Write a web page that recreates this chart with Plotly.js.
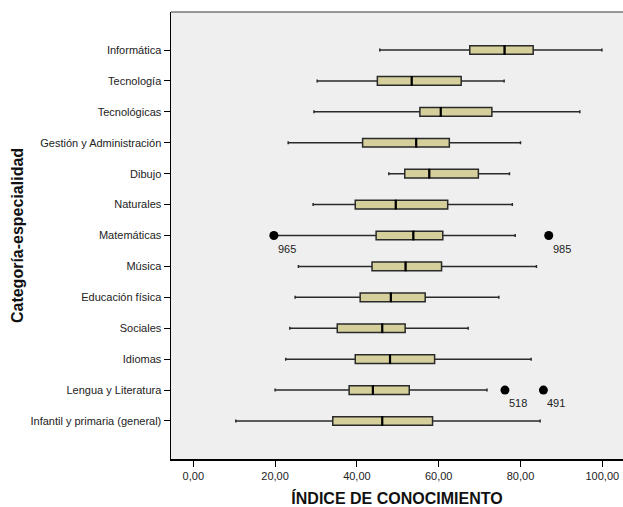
<!DOCTYPE html>
<html>
<head>
<meta charset="utf-8">
<script src="https://cdn.plot.ly/plotly-3.0.1.min.js"></script>
<style>html,body{margin:0;padding:0;background:#fff;}#chart{width:623px;height:507px;}</style>
</head>
<body>
<div id="chart"></div>
<script>
const categories = ['Infantil y primaria (general)','Lengua y Literatura','Idiomas','Sociales','Educación física','Música','Matemáticas','Naturales','Dibujo','Gestión y Administración','Tecnológicas','Tecnología','Informática'];
const lowerFence = [10.4, 20.0, 22.6, 23.6, 24.9, 25.7, 20.6, 29.3, 47.8, 23.2, 29.5, 30.3, 45.6];
const q1Values   = [34.1, 38.1, 39.6, 35.2, 40.8, 43.7, 44.7, 39.6, 51.7, 41.4, 55.4, 45.0, 67.6];
const medians    = [46.2, 43.9, 48.1, 46.2, 48.3, 51.9, 53.8, 49.5, 57.7, 54.5, 60.5, 53.4, 76.1];
const q3Values   = [58.5, 52.8, 59.0, 51.8, 56.7, 60.7, 61.0, 62.2, 69.7, 62.6, 73.0, 65.5, 83.1];
const upperFence = [84.8, 71.8, 82.6, 67.2, 74.7, 83.9, 78.7, 78.0, 77.3, 80.0, 94.5, 76.0, 99.9];

const outlierCats   = ['Matemáticas','Matemáticas','Lengua y Literatura','Lengua y Literatura'];
const outlierValues = [19.7, 86.9, 76.2, 85.6];
const outlierLabels = ['965','985','518','491'];

const xTickVals = [0,20,40,60,80,100];
const xTickText = ['0,00','20,00','40,00','60,00','80,00','100,00'];

const font = 'Liberation Sans, Arial, sans-serif';

const traces = [
  {
    type: 'box', orientation: 'h',
    y: categories, q1: q1Values, median: medians, q3: q3Values,
    lowerfence: lowerFence, upperfence: upperFence,
    boxpoints: false,
    fillcolor: '#d4cf9b',
    line: {color: '#2a2a2a', width: 1.5},
    width: 0.28, whiskerwidth: 0.35,
    hoverinfo: 'skip'
  },
  {
    type: 'scatter', mode: 'markers',
    x: medians, y: categories,
    marker: {symbol: 'line-ns', size: 7, line: {color: '#000', width: 2.2}},
    hoverinfo: 'skip'
  },
  {
    type: 'scatter', mode: 'markers',
    x: outlierValues, y: outlierCats,
    marker: {symbol: 'circle', size: 9, color: '#000'},
    hoverinfo: 'skip'
  }
];

const annotations = outlierValues.map((v, i) => ({
  x: v, y: outlierCats[i], xref: 'x', yref: 'y',
  text: outlierLabels[i], showarrow: false,
  xshift: 13, yshift: -13,
  font: {family: font, size: 11, color: '#222'}
}));

const layout = {
  width: 623, height: 507,
  margin: {l: 171, r: 0, t: 12, b: 48},
  paper_bgcolor: '#ffffff',
  plot_bgcolor: '#efefef',
  showlegend: false,
  hovermode: false,
  font: {family: font, size: 11, color: '#222'},
  xaxis: {
    range: [-5.45, 105.06],
    tickvals: xTickVals, ticktext: xTickText,
    ticks: 'outside', ticklen: 6, tickwidth: 1, tickcolor: '#000',
    showline: true, linecolor: '#000', linewidth: 1.5,
    showgrid: false, zeroline: false,
    tickfont: {family: font, size: 11, color: '#222'},
    title: {text: 'ÍNDICE DE CONOCIMIENTO', font: {family: font, size: 16, color: '#111', weight: 'bold'}, standoff: 12}
  },
  yaxis: {
    type: 'category',
    categoryorder: 'array', categoryarray: categories,
    range: [-1.23, 13.23],
    ticks: 'outside', ticklen: 6, tickwidth: 1, tickcolor: '#000',
    showline: true, linecolor: '#000', linewidth: 1.5,
    showgrid: false, zeroline: false,
    tickfont: {family: font, size: 11, color: '#222'},
    title: {text: 'Categoría-especialidad', font: {family: font, size: 16, color: '#111', weight: 'bold'}, standoff: 3}
  },
  shapes: [{
    type: 'line', xref: 'paper', yref: 'paper', x0: 0, x1: 1, y0: 1, y1: 1,
    line: {color: '#777', width: 1.5}
  }],
  annotations: annotations
};

Plotly.newPlot('chart', traces, layout, {displayModeBar: false, staticPlot: true});
</script>
</body>
</html>
